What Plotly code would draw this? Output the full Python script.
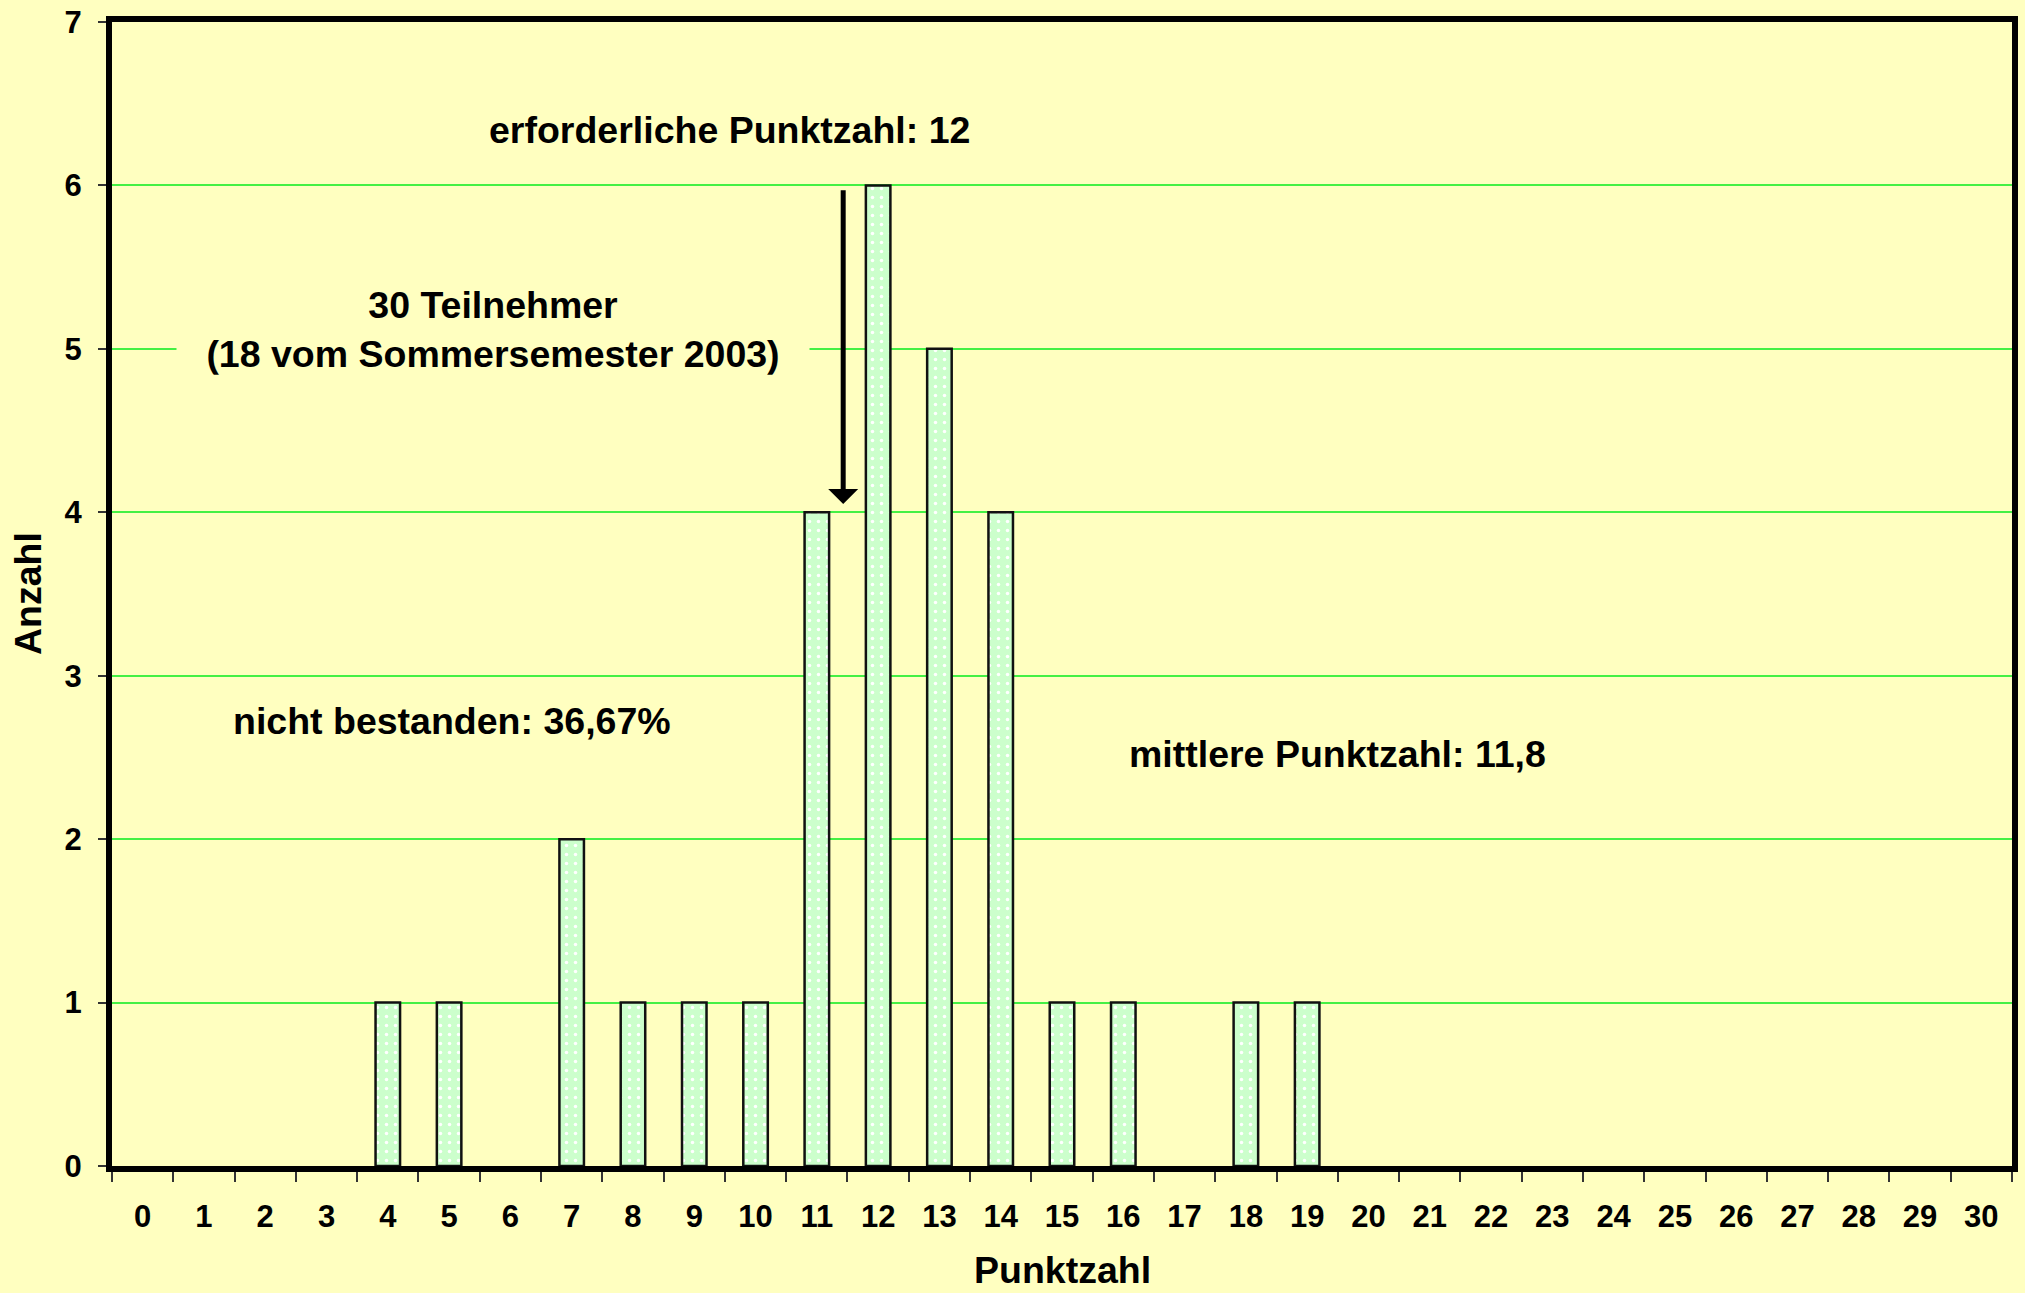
import plotly.graph_objects as go

# Data
punktzahl = [str(i) for i in range(0, 31)]
anzahl = [0, 0, 0, 0, 1, 1, 0, 2, 1, 1, 1, 4, 6, 5, 4, 1, 1, 0, 1, 1,
          0, 0, 0, 0, 0, 0, 0, 0, 0, 0, 0]
y_ticks = [0, 1, 2, 3, 4, 5, 6, 7]

BG = "#FFFFC0"
GRID = "#44F044"
FONT = "Liberation Sans, Arial, sans-serif"

# zero counts draw no bar in the reference
bar_y = [v if v != 0 else None for v in anzahl]

fig = go.Figure()
fig.add_trace(go.Bar(
    x=punktzahl,
    y=bar_y,
    width=0.4,
    marker=dict(
        color="#CCFFCC",
        line=dict(color="#111111", width=2.5),
        pattern=dict(shape=".", fgcolor="white", bgcolor="#CCFFCC",
                     size=9, solidity=0.12, fillmode="replace"),
    ),
    hoverinfo="x+y",
))

ann_font = dict(family=FONT, size=37.5, color="black", weight="bold")

fig.update_layout(
    width=2025, height=1293,
    margin=dict(l=112, r=13, t=22, b=127),
    paper_bgcolor=BG, plot_bgcolor=BG,
    showlegend=False,
    font=dict(family=FONT, color="black"),
    xaxis=dict(
        type="category",
        categoryorder="array", categoryarray=punktzahl,
        range=[-0.5, 30.5],
        automargin=False,
        showline=True, linecolor="black", linewidth=6, mirror=True,
        showgrid=False, zeroline=False,
        ticks="outside", tickson="boundaries", ticklen=10,
        tickwidth=1.5, tickcolor="#333333",
        tickfont=dict(family=FONT, size=31, color="black", weight="bold"),
        ticklabelstandoff=18,
    ),
    yaxis=dict(
        range=[0, 7],
        tickvals=y_ticks,
        automargin=False,
        showline=True, linecolor="black", linewidth=6, mirror=True,
        showgrid=True, gridcolor=GRID, gridwidth=1.5,
        zeroline=False,
        ticks="outside", ticklen=8, tickwidth=1.5, tickcolor="#333333",
        tickfont=dict(family=FONT, size=31, color="black", weight="bold"),
        ticklabelstandoff=10,
    ),
    annotations=[
        dict(text="erforderliche Punktzahl: 12", x=9.57, y=6.34,
             xref="x", yref="y", showarrow=False, font=ann_font,
             xanchor="center", yanchor="middle"),
        dict(text="30 Teilnehmer<br>(18 vom Sommersemester 2003)",
             x=5.72, y=5.12, xref="x", yref="y", showarrow=False,
             font=ann_font, xanchor="center", yanchor="middle",
             bgcolor=BG, width=630, align="center"),
        dict(text="nicht bestanden: 36,67%", x=5.04, y=2.72,
             xref="x", yref="y", showarrow=False, font=ann_font,
             xanchor="center", yanchor="middle"),
        dict(text="mittlere Punktzahl: 11,8", x=19.49, y=2.52,
             xref="x", yref="y", showarrow=False, font=ann_font,
             xanchor="center", yanchor="middle"),
        dict(text="", x=11.43, y=4.05, xref="x", yref="y",
             ax=11.43, ay=5.98, axref="x", ayref="y",
             showarrow=True, arrowhead=1, arrowwidth=5, arrowsize=1,
             arrowcolor="black"),
        dict(text="Punktzahl", x=0.5, y=0, xref="paper", yref="paper",
             showarrow=False, font=ann_font, xanchor="center",
             yanchor="middle", yshift=-104),
        dict(text="Anzahl", x=0, y=0.5, xref="paper", yref="paper",
             showarrow=False, font=ann_font, xanchor="center",
             yanchor="middle", xshift=-84, textangle=-90),
    ],
)

fig.write_html(
    "out.html",
    config={"displayModeBar": False},
    post_script="document.body.style.margin='0';document.body.style.overflow='hidden';",
)
